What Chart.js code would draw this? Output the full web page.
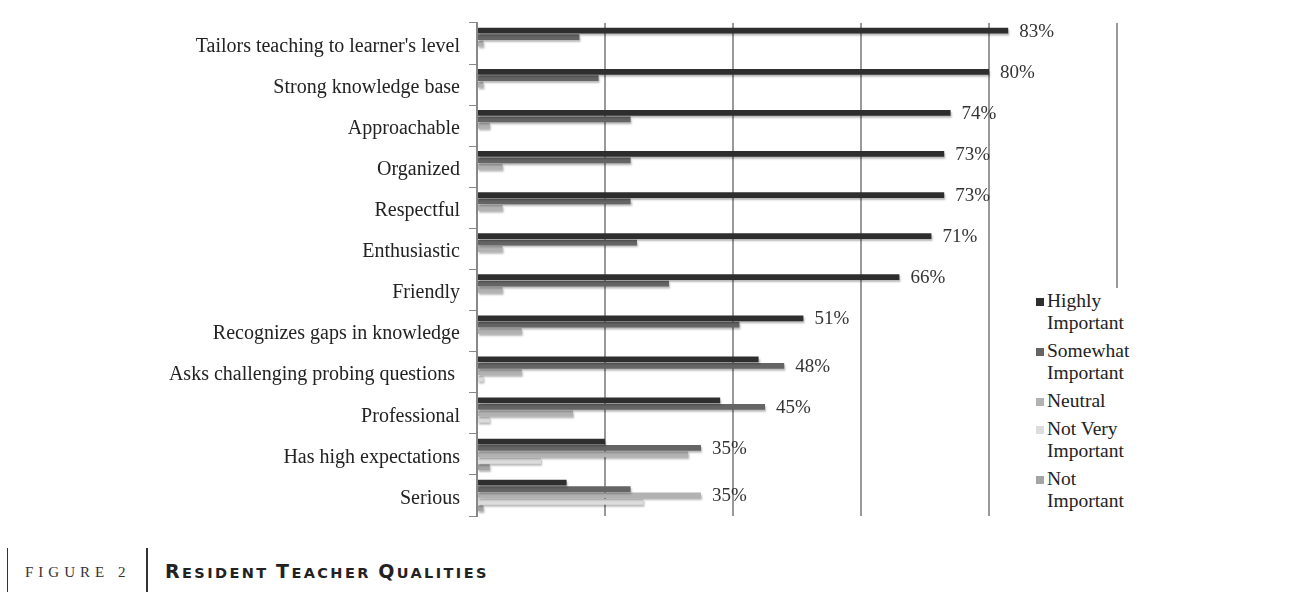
<!DOCTYPE html>
<html>
<head>
    <title>Resident Teacher Qualities</title>
    <script src="https://cdn.jsdelivr.net/npm/chart.js"></script>
    <style>
        body {
            margin: 0;
            background: #fff;
            width: 1305px;
            height: 592px;
            overflow: hidden;
            position: relative;
        }
        #wrap {
            position: absolute;
            left: 0;
            top: 0;
            width: 1305px;
            height: 540px;
        }
        #legend {
            position: absolute;
            left: 1030px;
            top: 288px;
            width: 115px;
            background: #fff;
            font-family: 'Liberation Serif', serif;
            font-size: 19.5px;
            color: #222;
            line-height: 22px;
            padding: 2px 0 6px 6px;
        }
        .item {
            position: relative;
            padding-left: 11px;
            margin-bottom: 6px;
        }
        .item span {
            position: absolute;
            left: 0;
            top: 8px;
            width: 8px;
            height: 8px;
        }
        #caption {
            position: absolute;
            left: 0;
            top: 548px;
            width: 1305px;
            height: 44px;
        }
        .edge {
            position: absolute;
            left: 7px;
            top: 0;
            width: 1px;
            height: 44px;
            background: #333;
        }
        .sep {
            position: absolute;
            left: 146px;
            top: 0;
            width: 2px;
            height: 44px;
            background: #333;
        }
        .fig {
            position: absolute;
            left: 25px;
            top: 16px;
            font-family: 'Liberation Serif', serif;
            font-size: 15px;
            letter-spacing: 5px;
            color: #333;
        }
        .title {
            position: absolute;
            left: 165px;
            top: 12px;
            font-family: 'DejaVu Sans', sans-serif;
            font-weight: bold;
            font-size: 14.5px;
            letter-spacing: 2.4px;
            color: #222;
        }
        .title b {
            font-size: 19px;
        }
    </style>
</head>
<body>
    <div id="wrap"><canvas id="chart"></canvas></div>
    <div id="legend"></div>
    <div id="caption">
        <div class="edge"></div>
        <div class="fig">FIGURE 2</div>
        <div class="sep"></div>
        <div class="title"><b>R</b>ESIDENT <b>T</b>EACHER <b>Q</b>UALITIES</div>
    </div>
    <script>
        const categories = [
            "Tailors teaching to learner's level",
            "Strong knowledge base",
            "Approachable",
            "Organized",
            "Respectful",
            "Enthusiastic",
            "Friendly",
            "Recognizes gaps in knowledge",
            "Asks challenging probing questions ",
            "Professional",
            "Has high expectations",
            "Serious"
        ];
        const seriesNames = ["Highly Important", "Somewhat Important", "Neutral", "Not Very Important", "Not Important"];
        const legendLines = [["Highly", "Important"], ["Somewhat", "Important"], ["Neutral"], ["Not Very", "Important"], ["Not", "Important"]];
        const highly = [83, 80, 74, 73, 73, 71, 66, 51, 44, 38, 20, 14];
        const somewhat = [16, 19, 24, 24, 24, 25, 30, 41, 48, 45, 35, 24];
        const neutral = [1, 1, 2, 4, 4, 4, 4, 7, 7, 15, 33, 35];
        const notVery = [0, 0, 0, 0, 0, 0, 0, 0, 1, 2, 10, 26];
        const notImportant = [0, 0, 0, 0, 0, 0, 0, 0, 0, 0, 2, 1];
        const xTicks = [0, 20, 40, 60, 80, 100];

        const colors = ['#2e2e2e', '#656565', '#b2b2b2', '#dcdcdc', '#a4a4a4'];
        const series = [highly, somewhat, neutral, notVery, notImportant];

        // legend
        const legend = document.getElementById('legend');
        legendLines.forEach((lines, i) => {
            const d = document.createElement('div');
            d.className = 'item';
            d.innerHTML = `<span style="background:${colors[i]}"></span>` + lines.join('<br>');
            legend.appendChild(d);
        });

        // shadow under bars, like the scanned original
        const barShadow = {
            id: 'barShadow',
            beforeDatasetsDraw(chart) {
                const ctx = chart.ctx;
                ctx.save();
                ctx.shadowColor = 'rgba(0,0,0,0.28)';
                ctx.shadowOffsetX = 1;
                ctx.shadowOffsetY = 2;
                ctx.shadowBlur = 2;
            },
            afterDatasetsDraw(chart) {
                chart.ctx.restore();
            }
        };

        // percentage label after the longest bar of each row
        const maxLabels = {
            id: 'maxLabels',
            afterDatasetsDraw(chart) {
                const ctx = chart.ctx;
                ctx.save();
                ctx.font = '19px "Liberation Serif", serif';
                ctx.fillStyle = '#333';
                ctx.textBaseline = 'middle';
                categories.forEach((c, i) => {
                    let best = 0;
                    series.forEach((s, k) => { if (s[i] > series[best][i]) best = k; });
                    const bar = chart.getDatasetMeta(best).data[i];
                    ctx.fillText(series[best][i] + '%', bar.x + 11, bar.y + 1);
                });
                ctx.restore();
            }
        };

        new Chart(document.getElementById('chart'), {
            type: 'bar',
            data: {
                labels: categories,
                datasets: series.map((s, i) => ({
                    label: seriesNames[i],
                    data: s,
                    backgroundColor: colors[i],
                    barPercentage: 0.9,
                    categoryPercentage: 0.78
                }))
            },
            options: {
                indexAxis: 'y',
                responsive: true,
                maintainAspectRatio: false,
                animation: false,
                layout: { padding: { top: 23, right: 188, bottom: 24, left: 0 } },
                plugins: {
                    legend: { display: false },
                    tooltip: { enabled: false }
                },
                scales: {
                    x: {
                        min: 0,
                        max: 100,
                        afterBuildTicks: s => { s.ticks = xTicks.map(v => ({ value: v })); },
                        ticks: { display: false },
                        border: { display: false },
                        grid: {
                            color: c => c.tick.value === 0 ? 'rgba(0,0,0,0)' : '#999',
                            lineWidth: 2,
                            drawTicks: false
                        },
                        afterFit: s => { s.height = 0; }
                    },
                    y: {
                        afterFit: s => { s.width = 477; },
                        ticks: {
                            color: '#222',
                            font: { family: 'Liberation Serif', size: 20 },
                            padding: 9,
                            labelOffset: 3
                        },
                        border: { color: '#888', width: 2 },
                        grid: {
                            offset: true,
                            drawOnChartArea: false,
                            color: '#888',
                            tickLength: 8
                        }
                    }
                }
            },
            plugins: [barShadow, maxLabels]
        });
    </script>
</body>
</html>
